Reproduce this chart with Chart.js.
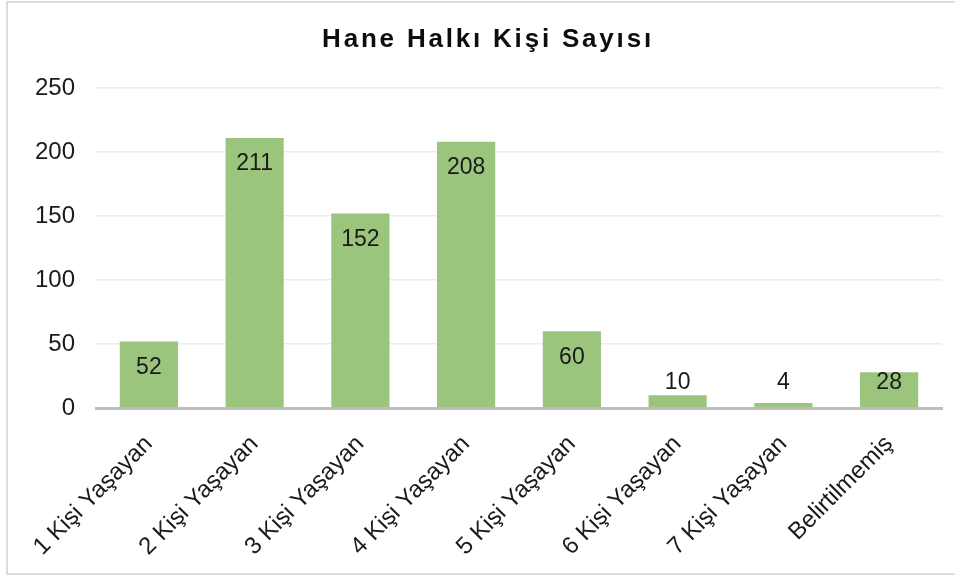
<!DOCTYPE html>
<html>
<head>
<meta charset="utf-8">
<script src="https://cdn.jsdelivr.net/npm/chart.js@4"></script>
<style>
  html, body { margin: 0; padding: 0; background: #fff; }
  #wrap { position: relative; width: 955px; height: 576px; overflow: hidden; }
  #frame { position: absolute; left: 6px; top: 1px; width: 1000px; height: 574px; border: 2px solid #dcdcdc; box-sizing: border-box; }
  canvas { position: absolute; left: 0; top: 0; }
</style>
</head>
<body>
<div id="wrap">
  <div id="frame"></div>
  <canvas id="myChart" width="955" height="576"></canvas>
</div>
<script>
var labels = ['1 Kişi Yaşayan', '2 Kişi Yaşayan', '3 Kişi Yaşayan', '4 Kişi Yaşayan', '5 Kişi Yaşayan', '6 Kişi Yaşayan', '7 Kişi Yaşayan', 'Belirtilmemiş'];
var counts = [52, 211, 152, 208, 60, 10, 4, 28];
var chartTitle = 'Hane Halkı Kişi Sayısı';
var yMin = 0, yMax = 250, yStep = 50;

// value labels: inside near top, pushed up above short bars
var valueLabels = {
    id: 'valueLabels',
    afterDatasetsDraw(chart) {
        var ctx = chart.ctx;
        var meta = chart.getDatasetMeta(0);
        ctx.save();
        ctx.font = '23px "Liberation Sans", Arial, sans-serif';
        ctx.fillStyle = '#1a1a1a';
        ctx.textAlign = 'center';
        ctx.textBaseline = 'middle';
        meta.data.forEach(function (bar, i) {
            var y = Math.min(bar.y + 26, bar.base - 25);
            ctx.fillText(String(counts[i]), bar.x, y);
        });
        ctx.restore();
    }
};

var titleDraw = {
    id: 'titleDraw',
    afterDraw(chart) {
        var ctx = chart.ctx;
        ctx.save();
        ctx.font = 'bold 26px "Liberation Sans", Arial, sans-serif';
        ctx.letterSpacing = '2.8px';
        ctx.fillStyle = '#0d0d0d';
        ctx.textAlign = 'center';
        ctx.textBaseline = 'middle';
        ctx.fillText(chartTitle, 488, 40);
        ctx.restore();
    }
};

var ctx = document.getElementById('myChart');
var myChart = new Chart(ctx, {
    type: 'bar',
    data: {
        labels: labels,
        datasets: [{
            data: counts,
            backgroundColor: '#9bc47c',
            borderWidth: 0,
            barPercentage: 0.55,
            categoryPercentage: 1
        }]
    },
    plugins: [valueLabels, titleDraw],
    options: {
        responsive: false,
        animation: false,
        layout: {
            padding: { left: 0, right: 13, top: 88, bottom: 0 }
        },
        plugins: {
            legend: { display: false },
            title: { display: false },
            tooltip: { enabled: false }
        },
        scales: {
            x: {
                grid: { display: false, drawTicks: false },
                border: { display: true, color: '#bfbfbf', width: 3 },
                ticks: {
                    minRotation: 45,
                    maxRotation: 45,
                    autoSkip: false,
                    padding: 22,
                    color: '#1a1a1a',
                    font: { family: '"Liberation Sans", Arial, sans-serif', size: 24 }
                },
                afterFit: function (scale) { scale.height = 168; }
            },
            y: {
                min: yMin,
                max: yMax,
                grid: { color: '#ececec', lineWidth: 1.5, drawTicks: false },
                border: { display: false },
                ticks: {
                    stepSize: yStep,
                    padding: 21,
                    color: '#1a1a1a',
                    font: { family: '"Liberation Sans", Arial, sans-serif', size: 24 }
                },
                afterFit: function (scale) { scale.width = 96; }
            }
        }
    }
});
</script>
</body>
</html>
